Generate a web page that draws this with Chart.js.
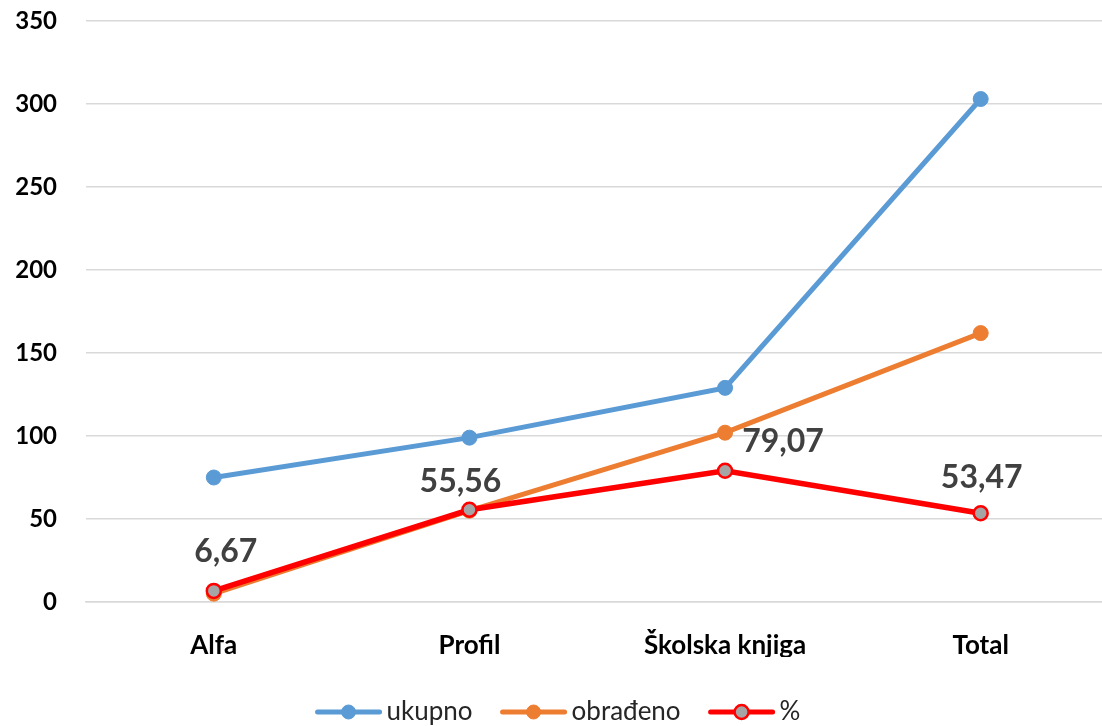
<!DOCTYPE html>
<html>
<head>
<meta charset="utf-8">
<script src="https://cdn.jsdelivr.net/npm/chart.js@4/dist/chart.umd.min.js"></script>
<style>
  html, body { margin: 0; padding: 0; background: #fff; overflow: hidden; }
  canvas { display: block; }
</style>
</head>
<body>
<canvas id="c" width="1118" height="726"></canvas>
<script>
var categories = ['Alfa', 'Profil', 'Školska knjiga', 'Total'];
var ukupno = [75, 99, 129, 303];
var obradeno = [5, 55, 102, 162];
var postotak = [6.67, 55.56, 79.07, 53.47];
var yTicks = [0, 50, 100, 150, 200, 250, 300, 350];

// label nudges for the % series (px)
var labelDx = [12, -9, 58, 1];
var labelDy = [-39, -28, -29, -36];

var FONT = 'Lato, "Open Sans", sans-serif';

var percentLabels = {
    id: 'percentLabels',
    afterDatasetsDraw: function(chart) {
        var ctx = chart.ctx;
        var meta = chart.getDatasetMeta(2);
        ctx.save();
        ctx.font = 'bold 32px ' + FONT;
        ctx.fillStyle = '#404040';
        ctx.textAlign = 'center';
        ctx.textBaseline = 'middle';
        meta.data.forEach(function(pt, i) {
            var txt = postotak[i].toFixed(2).replace('.', ',');
            ctx.fillText(txt, pt.x + labelDx[i], pt.y + labelDy[i]);
        });
        ctx.restore();
    }
};

var lineLegend = {
    id: 'lineLegend',
    afterDraw: function(chart) {
        var ctx = chart.ctx;
        var ds = chart.data.datasets;
        var y = 712, lineW = 62, gap = 7, sep = 30;
        ctx.save();
        ctx.font = '26px ' + FONT;
        var widths = ds.map(function(d) { return lineW + gap + ctx.measureText(d.label).width; });
        var total = widths.reduce(function(a, b) { return a + b; }, 0) + sep * (ds.length - 1);
        var x = 559 - total / 2;
        ds.forEach(function(d, i) {
            ctx.strokeStyle = d.borderColor;
            ctx.lineWidth = 5;
            ctx.lineCap = 'round';
            ctx.beginPath();
            ctx.moveTo(x, y);
            ctx.lineTo(x + lineW, y);
            ctx.stroke();
            ctx.beginPath();
            ctx.arc(x + lineW / 2, y, 7, 0, Math.PI * 2);
            ctx.fillStyle = d.pointBackgroundColor;
            ctx.fill();
            ctx.lineWidth = d.pointBorderWidth;
            ctx.strokeStyle = d.pointBorderColor;
            ctx.stroke();
            ctx.fillStyle = '#262626';
            ctx.textAlign = 'left';
            ctx.textBaseline = 'middle';
            ctx.fillText(d.label, x + lineW + gap, y);
            x += widths[i] + sep;
        });
        ctx.restore();
    }
};

new Chart(document.getElementById('c'), {
    type: 'line',
    data: {
        labels: categories,
        datasets: [{
            label: 'ukupno',
            data: ukupno,
            order: 3,
            borderColor: '#5B9BD5',
            borderWidth: 5,
            pointBackgroundColor: '#5B9BD5',
            pointBorderColor: '#5B9BD5',
            pointBorderWidth: 1,
            pointRadius: 7.5
        }, {
            label: 'obrađeno',
            data: obradeno,
            order: 2,
            borderColor: '#ED7D31',
            borderWidth: 5,
            pointBackgroundColor: '#ED7D31',
            pointBorderColor: '#ED7D31',
            pointBorderWidth: 1,
            pointRadius: 7.5
        }, {
            label: '%',
            data: postotak,
            order: 1,
            borderColor: '#FF0000',
            borderWidth: 5.5,
            pointBackgroundColor: '#A5A5A5',
            pointBorderColor: '#FF0000',
            pointBorderWidth: 2.5,
            pointRadius: 7
        }]
    },
    options: {
        responsive: false,
        animation: false,
        layout: { padding: { top: 21, bottom: 69, left: 0, right: 0 } },
        plugins: {
            legend: { display: false },
            tooltip: { enabled: false }
        },
        scales: {
            x: {
                offset: true,
                afterFit: function(scale) { scale.height = 55; },
                grid: { display: false, drawTicks: false },
                border: { color: '#D9D9D9', width: 1.5 },
                ticks: {
                    color: '#000',
                    padding: 28,
                    maxRotation: 0,
                    font: { family: FONT, size: 26, weight: 'bold' }
                }
            },
            y: {
                min: 0,
                max: 350,
                afterFit: function(scale) {
                    scale.width = 86;
                    scale.paddingTop = 0;
                    scale.paddingBottom = 0;
                },
                afterBuildTicks: function(scale) {
                    scale.ticks = yTicks.map(function(v) { return { value: v }; });
                },
                grid: { color: '#D9D9D9', lineWidth: 1.5, drawTicks: false },
                border: { display: false },
                ticks: {
                    color: '#000',
                    padding: 29,
                    font: { family: FONT, size: 24, weight: 'bold' }
                }
            }
        }
    },
    plugins: [percentLabels, lineLegend]
});
</script>
</body>
</html>
